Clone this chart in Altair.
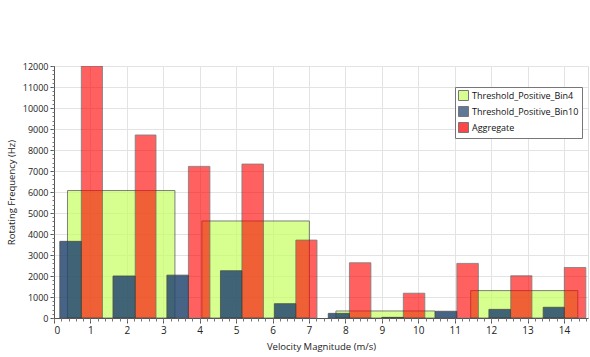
import altair as alt
import pandas as pd

series_names = ["Threshold_Positive_Bin4", "Threshold_Positive_Bin10", "Aggregate"]
series_colors = ["#c8ff66", "#244670", "#ff0000"]
series_opacity = [0.72, 0.84, 0.62]

green_x0 = [0.37, 4.06, 7.74, 11.44]
green_x1 = [3.32, 7.01, 10.46, 14.38]
green_y = [6070, 4620, 335, 1305]

blue_x0 = [0.16, 1.62, 3.10, 4.57, 6.05, 7.53, 9.00, 10.47, 11.94, 13.43]
blue_x1 = [0.75, 2.23, 3.69, 5.16, 6.64, 8.11, 9.59, 11.06, 12.53, 14.01]
blue_y = [3650, 2000, 2040, 2250, 680, 220, 30, 320, 410, 510]

red_x0 = [0.75, 2.23, 3.69, 5.16, 6.64, 8.11, 9.59, 11.06, 12.54, 14.01]
red_x1 = [1.33, 2.80, 4.28, 5.75, 7.22, 8.70, 10.18, 11.65, 13.12, 14.60]
red_y = [12000, 8715, 7220, 7330, 3710, 2630, 1180, 2600, 2010, 2405]

x_ticks = list(range(0, 15))
y_ticks = list(range(0, 12001, 1000))
x_minor = [round(i * 0.2, 1) for i in range(0, 74)]
y_minor = list(range(0, 12001, 200))

rows = []
for name, xs0, xs1, ys in [
    (series_names[0], green_x0, green_x1, green_y),
    (series_names[1], blue_x0, blue_x1, blue_y),
    (series_names[2], red_x0, red_x1, red_y),
]:
    for a, b, v in zip(xs0, xs1, ys):
        rows.append({"series": name, "x0": a, "x1": b, "y0": 0, "y": v})
df = pd.DataFrame(rows)

FONT = "Open Sans"
xscale = alt.Scale(domain=[0, 14.66], nice=False, zero=False)
yscale = alt.Scale(domain=[0, 12000], nice=False)

x_axis = alt.Axis(values=x_ticks, title="Velocity Magnitude (m/s)", grid=True, orient="bottom",
                  gridColor="#e3e3e3", domainColor="#555555", tickColor="#555555",
                  tickSize=5, labelFontSize=10, labelColor="#222222", labelFont=FONT,
                  titleFont=FONT, titleFontSize=9.5, titleFontWeight="normal",
                  titleColor="#222222", titlePadding=6, labelPadding=2, format="d")
y_axis = alt.Axis(values=y_ticks, title="Rotating Frequency (Hz)", grid=True, orient="left",
                  gridColor="#e3e3e3", domainColor="#555555", tickColor="#555555",
                  tickSize=4, labelFontSize=9, labelColor="#222222", labelFont=FONT,
                  titleFont=FONT, titleFontSize=9.5, titleFontWeight="normal",
                  titleColor="#222222", titlePadding=6, labelPadding=2, format="d")
legend = alt.Legend(title=None, orient="none", legendX=401, legendY=21,
                    symbolType="square", symbolSize=100, symbolStrokeColor="#444444",
                    symbolStrokeWidth=1, symbolOpacity=0.72, labelFont=FONT,
                    labelFontSize=9, labelColor="#111111", rowPadding=1,
                    strokeColor="#777777", fillColor="white", padding=3,
                    labelOffset=3, labelLimit=200)
color = alt.Color("series:N", sort=series_names,
                  scale=alt.Scale(domain=series_names, range=series_colors), legend=legend)

layers = []
for i, name in enumerate(series_names):
    first = i == 0
    layer = alt.Chart(df).transform_filter(alt.datum.series == name).mark_rect(
        stroke="#333333", strokeWidth=1, strokeOpacity=0.85, opacity=series_opacity[i], clip=True
    ).encode(
        x=alt.X("x0:Q", scale=xscale, axis=x_axis if first else None),
        x2="x1:Q",
        y=alt.Y("y:Q", scale=yscale, axis=y_axis if first else None),
        y2="y0:Q",
        color=color,
    )
    layers.append(layer)

minor_df = pd.DataFrame({"v": [0]})
minor = alt.Chart(minor_df).mark_point(opacity=0).encode(
    x=alt.X("v:Q", scale=xscale,
            axis=alt.Axis(values=x_minor, labels=False, title=None, grid=False, domain=False,
                          orient="bottom", tickColor="#777777", tickSize=3)),
    y=alt.Y("v:Q", scale=yscale,
            axis=alt.Axis(values=y_minor, labels=False, title=None, grid=False, domain=False,
                          orient="left", tickColor="#777777", tickSize=2)),
)

chart = alt.layer(*layers, minor).resolve_axis(x="independent", y="independent").properties(
    width=534, height=252,
    autosize=alt.AutoSizeParams(type="none"),
    padding={"left": 54, "top": 66, "right": 2, "bottom": 39},
).configure_view(stroke="#999999", strokeWidth=1).configure(background="white")

chart.save("out.html", embed_options={"renderer": "svg", "actions": False})
